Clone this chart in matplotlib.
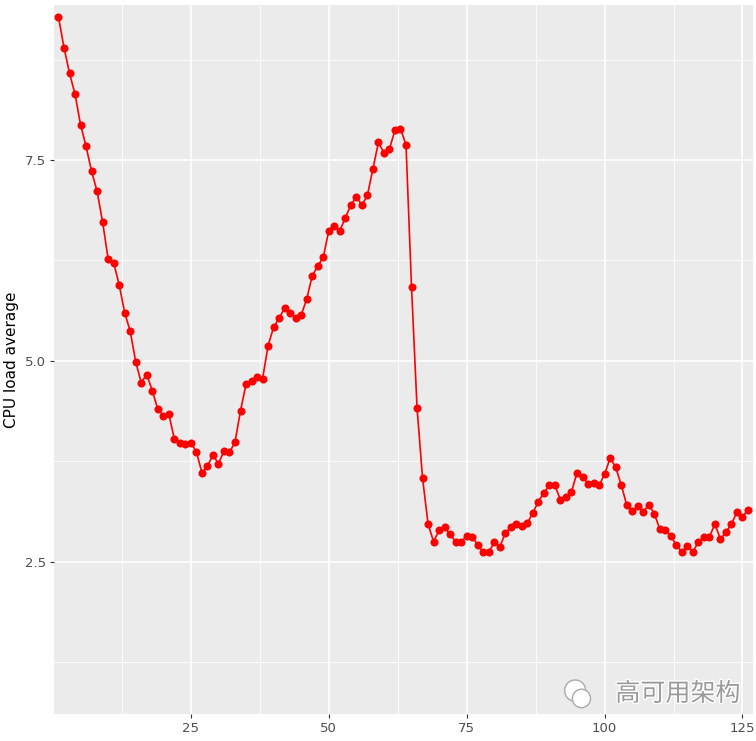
import matplotlib
matplotlib.use("Agg")
import matplotlib.pyplot as plt
import matplotlib.patheffects as pe
from matplotlib.patches import Ellipse
from matplotlib.ticker import MultipleLocator

plt.rcParams['font.family'] = ['DejaVu Sans', 'Noto Sans CJK SC']

cpu_load = [
    9.28, 8.90, 8.58, 8.32, 7.94, 7.67, 7.36, 7.11, 6.73, 6.27,
    6.22, 5.95, 5.60, 5.37, 4.99, 4.73, 4.83, 4.63, 4.40, 4.32,
    4.34, 4.03, 3.98, 3.97, 3.98, 3.87, 3.61, 3.69, 3.83, 3.72,
    3.88, 3.86, 3.99, 4.38, 4.71, 4.75, 4.80, 4.78, 5.19, 5.42,
    5.53, 5.66, 5.60, 5.53, 5.57, 5.77, 6.06, 6.18, 6.29, 6.62,
    6.68, 6.62, 6.78, 6.94, 7.04, 6.94, 7.06, 7.39, 7.72, 7.59,
    7.64, 7.87, 7.89, 7.69, 5.92, 4.42, 3.54, 2.97, 2.75, 2.89,
    2.93, 2.84, 2.75, 2.75, 2.82, 2.81, 2.71, 2.62, 2.62, 2.74,
    2.68, 2.86, 2.93, 2.97, 2.95, 2.98, 3.11, 3.25, 3.36, 3.45,
    3.45, 3.27, 3.30, 3.37, 3.61, 3.56, 3.47, 3.48, 3.45, 3.59,
    3.79, 3.68, 3.46, 3.21, 3.13, 3.19, 3.12, 3.21, 3.10, 2.91,
    2.89, 2.82, 2.71, 2.62, 2.70, 2.62, 2.75, 2.81, 2.81, 2.97,
    2.78, 2.87, 2.97, 3.12, 3.06, 3.15,
]
time_index = list(range(1, len(cpu_load) + 1))

x_ticks = [25, 50, 75, 100, 125]
y_ticks = [2.5, 5.0, 7.5]
y_label = "CPU load average"
watermark = "高可用架构"

fig = plt.figure(figsize=(7.56, 7.41), dpi=100)
ax = fig.add_axes([0.0718, 0.0364, 0.9242, 0.9569])
ax.set_facecolor('#EBEBEB')

ax.plot(time_index, cpu_load, color='#FF0000', linewidth=1.2,
        marker='o', markersize=5.8, markeredgewidth=0, zorder=3)

ax.set_xlim(0.24, 126.9)
ax.set_ylim(0.605, 9.43)
ax.set_xticks(x_ticks)
ax.set_yticks(y_ticks)
ax.set_yticklabels([f"{v:.1f}" for v in y_ticks])
ax.xaxis.set_minor_locator(MultipleLocator(12.5))
ax.yaxis.set_minor_locator(MultipleLocator(1.25))

ax.grid(which='major', color='white', linewidth=1.2)
ax.grid(which='minor', color='white', linewidth=0.6)
ax.set_axisbelow(True)
for s in ax.spines.values():
    s.set_visible(False)

ax.tick_params(which='major', length=3, width=0.8, color='#333333',
               labelcolor='#4D4D4D', labelsize=9.5, pad=3)
ax.tick_params(which='minor', length=0)

ax.set_ylabel(y_label, fontsize=11, color='black', labelpad=4)

# watermark (logo approximated by two bubbles + text)
for (cx, cy, w, h) in [(0.7455, 0.033, 0.030, 0.030), (0.7545, 0.022, 0.026, 0.026)]:
    ax.add_patch(Ellipse((cx, cy), w, h, transform=ax.transAxes, facecolor='white',
                         edgecolor='#AAAAAA', linewidth=1.0, zorder=5))
t = ax.text(0.982, 0.010, watermark, transform=ax.transAxes, ha='right', va='bottom',
            fontsize=18, color='#9A9A9A', family=['Noto Sans CJK SC', 'DejaVu Sans'],
            zorder=5)
t.set_path_effects([pe.withStroke(linewidth=2, foreground='white')])

fig.savefig("out.png", dpi=100)
